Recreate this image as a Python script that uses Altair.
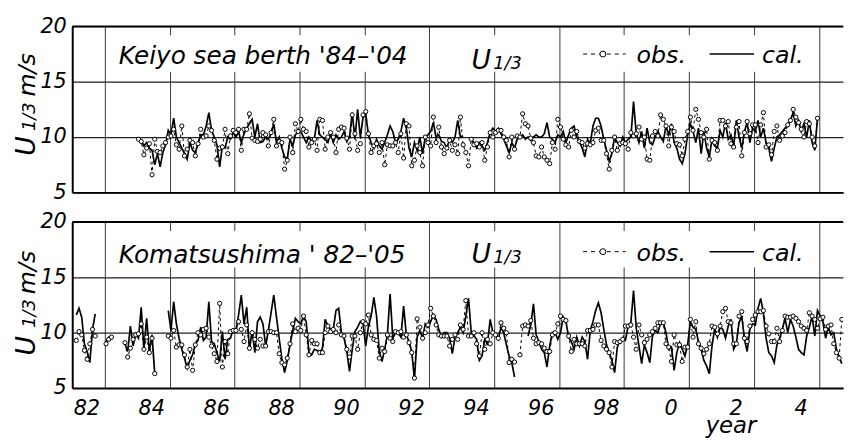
import altair as alt
import pandas as pd

FONT = "DejaVu Sans"
W, H = 780, 168
X_START = 1982
X_END = 1982 + 780 / 32.85
GRID_YEARS = list(range(1983, 2006))
Y_TICKS = [5, 10, 15, 20]
X_LABEL_POS = [1982.45, 1984.45, 1986.45, 1988.45, 1990.45, 1992.45, 1994.45,
               1996.45, 1998.45, 2000.45, 2002.45, 2004.45]
X_LABELS = ["82", "84", "86", "88", "90", "92", "94", "96", "98", "0", "2", "4"]

N = None
KEIYO_START = 1984
keiyo_obs = [
    9.8, 9.6, 8.4, 9.0, 9.4, 6.6, 9.8, 8.7, 8.6, 9.2, 9.5, 10.0,
    10.1, 10.7, 9.3, 8.9, 11.0, 8.3, 8.9, 9.7, 9.5, 8.3, 9.4, 10.7,
    10.0, 10.1, 11.0, 10.6, 9.7, 8.0, 9.0, 9.1, 10.7, 8.5, 10.1, 10.6,
    10.4, 10.7, 8.8, 10.7, 10.7, 12.1, 9.9, 9.7, 9.6, 9.8, 10.4, 10.2,
    9.2, 10.4, 11.6, 9.2, 9.6, 9.5, 7.1, 7.9, 10.0, 8.6, 11.2, 10.5,
    11.6, 10.7, 10.5, 9.1, 9.5, 9.8, 8.8, 11.6, 11.5, 8.9, 10.0, 10.4,
    10.0, 8.6, 10.7, 10.9, 10.8, 9.9, 8.9, 12.0, 10.3, 8.8, 9.4, 12.0,
    12.3, 10.3, 8.6, 9.2, 9.4, 8.6, 9.5, 7.5, 9.3, 9.2, 9.2, 9.5,
    8.6, 10.3, 8.1, 11.2, 11.0, 7.4, 7.9, 9.2, 8.6, 7.4, 10.0, 9.5,
    9.2, 11.8, 9.5, 10.9, 9.1, 8.5, 9.0, 9.7, 8.8, 9.3, 8.5, 11.8,
    9.3, 8.6, 7.4, 9.8, 9.3, 9.4, 9.1, 9.5, 7.9, 9.1, 10.4, 10.0,
    10.4, 10.6, 10.6, 10.0, 9.7, 8.2, 10.0, 8.9, 10.1, 10.0, 12.1, 11.2,
    11.0, 9.9, 9.5, 8.3, 8.2, 9.1, 8.2, 7.9, 7.6, 9.5, 8.9, 11.6,
    10.9, 9.8, 9.3, 9.1, 10.6, 10.0, 10.5, 9.6, 9.5, 9.0, 9.4, 9.3,
    9.5, 10.6, 10.8, 9.7, 9.7, 8.5, 7.1, 8.8, 10.0, 8.8, 9.4, 9.5,
    9.4, 8.9, 10.4, 10.1, 10.3, 10.9, 9.8, 10.0, 8.0, 7.9, 10.1, 10.5,
    10.1, 12.0, 11.6, 11.0, 9.2, 10.9, 10.5, 9.4, 9.3, 8.3, 9.8, 10.5,
    11.8, 10.6, 12.5, 11.6, 10.4, 10.0, 10.7, 8.0, 9.7, 9.5, 8.8, 11.5,
    11.5, 11.0, 11.4, 9.4, 9.1, 10.9, 11.4, 8.3, 10.4, 11.4, 10.3, 11.1,
    11.1, 9.5, 11.1, 12.2, 9.1, 9.3, 8.4, 10.5, 11.0, 9.7, 10.1, 10.4,
    11.1, 11.5, 12.5, 11.8, 11.3, 10.7, 10.0, 11.4, 11.2, 10.0, 9.2, 11.7,
]
keiyo_cal = [
    9.9, 9.7, 9.2, 9.5, 9.0, 8.8, 7.5, 8.5, 7.3, 8.6, 9.3, 10.6,
    10.2, 11.7, 10.0, 9.5, 9.0, 8.5, 8.0, 9.5, 8.8, 8.6, 9.4, 10.2,
    10.2, 11.0, 12.2, 10.6, 10.0, 9.3, 7.3, 9.2, 9.0, 10.0, 9.8, 10.4,
    10.0, 10.5, 9.5, 10.3, 10.8, 11.2, 11.6, 10.0, 11.2, 9.5, 9.6, 10.0,
    9.8, 10.3, 11.2, 9.5, 10.0, 9.0, 8.2, 8.0, 9.8, 9.2, 10.2, 10.5,
    10.5, 10.0, 9.5, 10.0, 9.6, 9.8, 11.5, 10.2, 10.0, 9.8, 9.5, 10.3,
    9.5, 10.2, 9.8, 10.0, 10.5, 9.6, 10.0, 12.2, 9.8, 12.5, 10.0, 11.8,
    12.0, 10.2, 9.5, 9.0, 9.8, 9.2, 8.9, 9.5, 10.2, 11.0, 10.5, 9.5,
    9.8, 10.5, 11.7, 10.8, 9.0, 8.2, 9.5, 8.8, 10.0, 8.5, 10.0, 10.2,
    10.5, 11.3, 10.0, 10.2, 9.6, 9.5, 9.0, 9.8, 9.5, 10.0, 11.5, 10.0,
    10.1, N, N, 9.8, 9.5, 9.0, 9.5, 9.2, 8.8, 9.5, 10.4, 10.8,
    10.5, 10.8, 10.3, 9.8, 9.2, 8.6, 9.5, 9.0, 9.8, 10.0, 10.2, 9.8,
    10.0, 9.7, 10.0, 10.2, 10.0, 10.0, 10.3, 11.3, 10.0, 9.8, 9.5, 10.2,
    10.0, 10.5, 9.5, 10.2, 10.8, 11.0, 10.0, 9.6, 9.0, 8.2, 9.8, 9.4,
    11.0, 11.7, 11.7, 11.0, 9.8, 8.8, 7.8, 8.5, 10.0, 9.5, 9.2, 10.0,
    9.5, 9.8, 10.0, 13.2, 10.3, 9.5, 10.5, 9.0, 10.8, 9.5, 9.3, 10.0,
    10.5, 10.0, 9.6, 11.0, 10.2, 11.2, 9.5, 9.0, 8.0, 7.6, 8.5, 10.2,
    11.2, 10.5, 9.5, 10.8, 8.5, 10.5, 9.0, 8.2, 9.8, 9.2, 9.0, 10.6,
    10.0, 11.3, 9.8, 10.2, 9.2, 11.5, 10.0, 9.0, 10.5, 11.3, 9.5, 10.8,
    10.5, 11.5, 10.0, 10.8, 9.5, 9.0, 7.8, 9.0, 10.0, 10.2, 10.5, 10.8,
    11.0, 11.5, 12.2, 11.0, 11.5, 10.5, 11.2, 10.0, 11.5, 9.5, 8.8, 11.7,
]

KOMA_START = 1982
koma_obs = [
    N, 9.3, 10.1, 9.8, 8.4, 7.6, 9.0, 10.3, 9.7, N, N, N,
    9.0, 9.4, 9.6, N, N, N, N, 9.1, 7.8, 8.6, 9.4, 9.8,
    9.9, 10.8, 8.5, 9.6, 8.2, 9.5, 6.3, N, N, N, N, 9.7,
    9.5, 10.2, 8.7, 8.9, 8.9, 8.0, 6.9, 8.5, 6.6, 8.9, 10.0, 9.8,
    10.3, 10.4, 9.6, 8.8, 8.1, 7.4, 12.65, 6.9, 9.2, 8.1, 10.1, 10.2,
    10.2, 11.0, 10.3, 9.2, 10.7, 8.6, 10.0, 9.4, 8.6, 9.4, 8.8, 8.8,
    10.1, 10.1, 10.0, 10.0, 8.1, 7.3, 7.1, 7.7, 9.0, 10.8, 10.1, 10.4,
    10.2, 11.5, 9.8, 8.0, 9.3, 9.0, 9.0, 8.2, 8.2, 10.0, 10.6, 10.1,
    10.3, 10.0, 10.7, 9.8, 9.7, 8.5, 7.8, 9.7, 9.7, 8.5, 10.0, 11.0,
    10.8, 11.6, 9.8, 9.4, 9.3, 7.7, 8.6, 8.3, 9.8, 9.5, 9.2, 10.1,
    10.0, 10.1, 9.6, 9.8, 9.1, 8.2, 5.9, 11.25, 10.5, 9.5, 10.0, 10.7,
    12.2, 11.5, 10.7, 9.8, 9.7, 9.7, 9.7, 8.8, 9.4, 9.8, 9.4, 10.7,
    10.3, 12.9, 9.7, 9.7, 10.0, 9.0, 7.9, 10.0, 8.5, 9.4, 9.0, 10.0,
    9.8, 9.5, 10.9, 10.4, 10.0, 7.3, 7.6, 7.35, N, 8.0, 10.6, 10.7,
    10.6, 11.1, 9.5, 9.0, 9.1, 9.0, 8.6, 8.3, 8.3, 9.8, 10.0, 10.8,
    11.5, 11.2, 11.1, 9.7, 8.3, 9.4, 9.0, 9.0, 9.0, 8.8, 10.2, 10.2,
    10.3, 10.7, 10.7, 9.3, 8.8, 8.5, 8.2, 6.9, 9.2, 9.1, 9.2, 9.4,
    10.6, 10.6, 10.7, 9.6, 8.5, 10.7, 9.8, 9.1, 9.4, 9.8, 10.1, 10.4,
    10.9, 10.9, 10.9, 9.0, 8.7, 7.4, 9.8, 8.9, 8.9, 7.4, 8.7, 8.7,
    11.2, 9.6, 11.0, 9.0, 8.6, 8.1, 8.5, 9.0, 10.6, 10.5, 9.9, 10.6,
    11.9, 12.2, 11.0, 10.9, 9.0, 9.0, 11.5, 11.9, 9.5, 9.2, 10.6, 11.2,
    11.6, 11.9, 11.9, 12.0, 10.6, 9.9, 9.2, 9.2, 10.4, 9.2, 10.2, 11.5,
    11.4, 11.4, 11.5, 11.3, 11.0, 10.6, 10.4, 10.2, 11.8, 11.5, 11.2, 10.4,
    11.25, 11.4, 10.3, 10.6, 10.7, 9.0, 8.2, 7.7, 11.2, N, N, N,
]
koma_cal = [
    N, 11.6, 12.2, 11.4, 9.0, 8.3, 7.3, 10.3, 11.7, N, N, N,
    9.2, 9.6, 9.7, N, N, N, N, 9.0, 8.3, 10.6, 8.8, 9.9,
    9.5, 12.3, 8.5, 11.3, 8.3, 9.8, 6.3, N, N, N, N, 12.0,
    10.2, 12.8, 10.8, 9.5, 8.5, 7.7, 6.8, 7.5, 8.0, 9.0, 9.3, 10.5,
    9.3, 9.6, 12.8, 9.2, 9.0, 8.2, 7.4, 10.1, 7.6, 9.4, 9.5, 10.3,
    10.1, 11.6, 13.4, 10.8, 12.3, 8.4, 10.2, 8.2, 11.0, 11.4, 10.8, 8.8,
    10.2, 11.8, 13.4, 11.4, 9.5, 7.6, 6.4, 7.5, 8.9, 10.2, 11.3, 11.0,
    10.8, 11.5, 11.0, 8.2, 8.0, 8.5, 8.4, 8.2, 8.6, 11.2, 10.6, 10.3,
    10.3, 12.0, 12.2, 10.0, 9.5, 8.3, 6.5, 8.5, 10.1, 10.5, 11.0, 10.8,
    8.8, 10.6, 11.5, 13.2, 11.5, 8.3, 7.4, 8.5, 9.8, 13.5, 9.5, 10.0,
    10.0, 9.6, 12.4, 9.8, 9.2, 8.3, 5.8, 9.6, 10.2, 9.5, 10.8, 10.5,
    11.0, 11.6, 11.2, 10.3, 9.6, 10.0, 10.0, 9.5, 8.1, 9.6, 10.0, 10.5,
    10.0, 11.5, 13.1, 10.0, 9.7, 9.4, 7.5, 7.9, 9.4, 9.0, 11.2, 10.0,
    9.9, 9.4, 10.5, 10.0, 8.9, 7.9, 7.3, 6.0, N, N, N, N,
    9.7, 10.7, 12.6, 9.8, 9.2, 8.5, 8.2, 6.9, 8.8, 10.0, 10.0, 9.4,
    10.0, 11.4, 11.0, 9.6, 9.2, 8.5, 9.6, 8.8, 9.6, 9.2, 7.6, 10.2,
    11.0, 12.0, 12.7, 11.8, 10.3, 8.9, 8.2, 7.5, 6.4, 8.7, 9.3, 9.4,
    9.3, 10.6, 10.9, 13.8, 10.4, 8.8, 7.2, 8.9, 8.2, 7.3, 9.7, 10.2,
    10.0, 10.9, 10.9, 10.0, 8.5, 8.7, 6.6, 8.2, 9.1, 8.5, 7.9, 8.9,
    11.0, 10.5, 10.3, 9.2, 8.5, 7.5, 7.0, 6.3, 8.8, 10.4, 9.6, 10.5,
    10.3, 9.5, 10.6, 11.2, 8.5, 9.0, 10.9, 11.5, 9.4, 8.3, 10.3, 10.8,
    10.7, 12.2, 13.1, 11.8, 9.5, 8.2, 7.9, 7.3, 8.9, 9.5, 10.3, 11.3,
    10.0, 11.2, 10.6, 9.6, 8.5, 8.2, 8.0, 9.7, 10.5, 11.5, 9.7, 12.0,
    11.5, 11.0, 9.5, 10.5, 9.8, 10.0, 8.5, 7.8, 7.2, N, N, N,
]


def monthly(vals, start, kind):
    return [{"t": start + (i + 0.5) / 12.0, "v": v, "kind": kind}
            for i, v in enumerate(vals)]


ONE = pd.DataFrame({"k": [0]})


def txt(s, x, y, size=25, angle=None, align="left"):
    kw = dict(text=s, font=FONT, fontSize=size, fontStyle="italic",
              color="black", align=align, baseline="alphabetic")
    if angle is not None:
        kw["angle"] = angle
    return alt.Chart(ONE).mark_text(**kw).encode(x=alt.value(x), y=alt.value(y))


def box(x1, x2, y1, y2):
    return alt.Chart(ONE).mark_rect(color="white", opacity=1).encode(
        x=alt.value(x1), x2=alt.value(x2), y=alt.value(y1), y2=alt.value(y2))


def panel(obs, cal, start, title, ty, uy, ly, yb, sub_off, ms_off, bottom):
    df = pd.DataFrame(monthly(obs, start, "obs") + monthly(cal, start, "cal"))
    xs = alt.X("t:Q", scale=alt.Scale(domain=[X_START, X_END], nice=False, zero=False),
               axis=alt.Axis(values=GRID_YEARS, labels=False, ticks=False, grid=True,
                             gridColor="#3a3a3a", gridWidth=1, domain=True,
                             domainColor="black", domainWidth=2, title=None))
    ys = alt.Y("v:Q", scale=alt.Scale(domain=[5, 20], nice=False, zero=False),
               axis=alt.Axis(values=Y_TICKS, grid=True, gridColor="#222222", gridWidth=1.2,
                             ticks=False, domainColor="black", domainWidth=2,
                             labelFont=FONT, labelFontSize=21, labelFontStyle="italic",
                             labelColor="black", labelPadding=6, title=None))
    base = alt.Chart(df)
    obs_line = base.transform_filter(alt.datum.kind == "obs").mark_line(
        color="black", strokeWidth=1, strokeDash=[3, 3], clip=True).encode(x=xs, y=ys)
    cal_line = base.transform_filter(alt.datum.kind == "cal").mark_line(
        color="black", strokeWidth=1.7, clip=True).encode(x="t:Q", y="v:Q")
    pts = base.transform_filter(alt.datum.kind == "obs").mark_point(
        shape="circle", filled=True, fill="white", stroke="black", strokeWidth=1,
        size=18, opacity=1, clip=True).encode(x="t:Q", y="v:Q")
    top = alt.Chart(ONE).mark_rule(color="black", strokeWidth=2).encode(
        x=alt.value(0), x2=alt.value(W), y=alt.value(0))
    layers = [obs_line, cal_line, pts, top,
              box(39, 354, 9, 46), box(369, 454, 9, 46), box(504, 749, 9, 46),
              txt(title, 47, ty),
              txt("U", 404, uy, 27), txt("1/3", 426, uy, 18),
              # legend
              alt.Chart(ONE).mark_rule(color="black", strokeWidth=1, strokeDash=[4, 4]).encode(
                  x=alt.value(517), x2=alt.value(560), y=alt.value(ly)),
              alt.Chart(ONE).mark_point(shape="circle", filled=True, fill="white",
                                        stroke="black", strokeWidth=1, size=36, opacity=1).encode(
                  x=alt.value(537), y=alt.value(ly)),
              txt("obs.", 571, ly + 9, 24),
              alt.Chart(ONE).mark_rule(color="black", strokeWidth=1.5).encode(
                  x=alt.value(645), x2=alt.value(690), y=alt.value(ly)),
              txt("cal.", 698, ly + 9, 24),
              # y title
              txt("U", -38, yb, 27, angle=270),
              txt("1/3", -38, yb - sub_off, 18, angle=270),
              txt("m/s", -38, yb - ms_off, 24, angle=270),
              ]
    if bottom:
        lab = pd.DataFrame({"t": X_LABEL_POS, "lab": X_LABELS})
        layers.append(alt.Chart(lab).mark_text(
            font=FONT, fontSize=21, fontStyle="italic", color="black",
            baseline="alphabetic", align="center").encode(
            x="t:Q", y=alt.value(H + 27), text="lab:N"))
        layers.append(txt("year", 641, H + 45, 23))
    return alt.layer(*layers).properties(width=W, height=H)


top_panel = panel(keiyo_obs, keiyo_cal, KEIYO_START, "Keiyo sea berth '84\u2013'04",
                  38, 43, 28, 131, 25, 60, False)
bottom_panel = panel(koma_obs, koma_cal, KOMA_START, "Komatsushima ' 82\u2013'05",
                     41, 41, 30, 135, 28, 62, True)

chart = alt.vconcat(top_panel, bottom_panel, spacing=30, bounds="flush").properties(
    padding={"left": 5, "top": 5, "right": 0, "bottom": 0}
).configure_view(stroke=None)

chart.save("out.html", embed_options={"renderer": "svg", "actions": False})
